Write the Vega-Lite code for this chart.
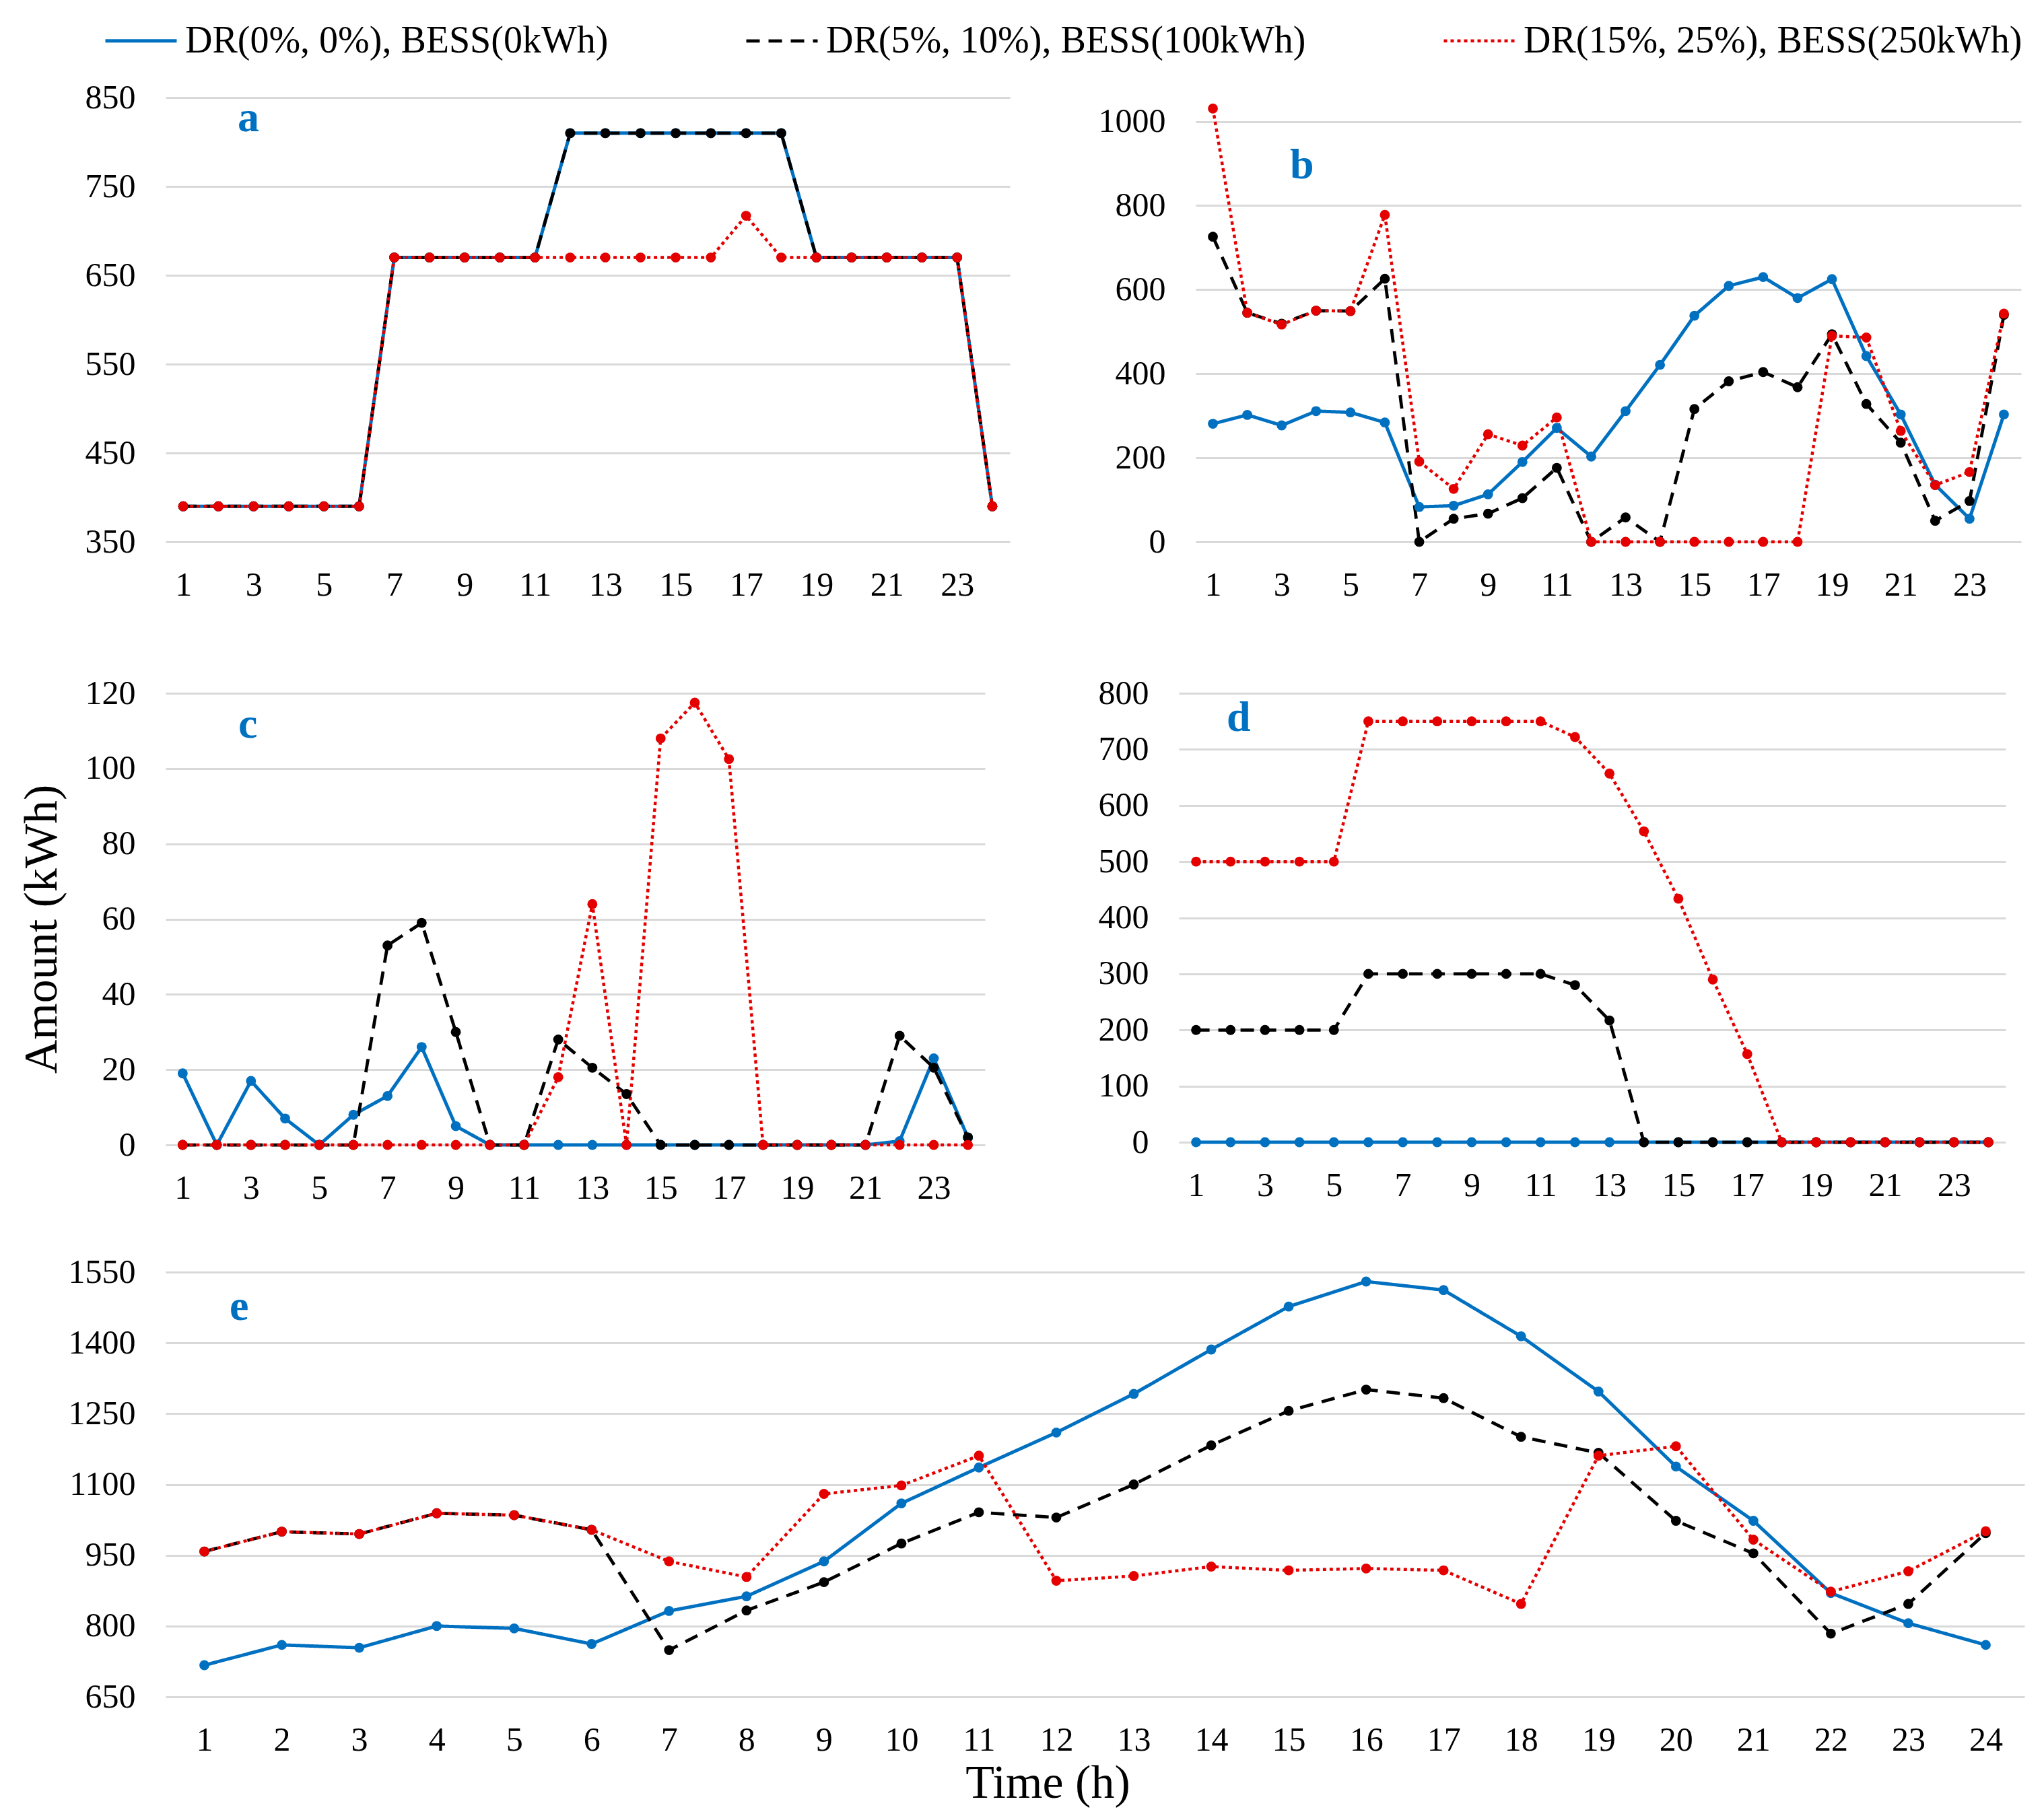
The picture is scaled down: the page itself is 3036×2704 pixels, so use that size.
{
  "$schema": "https://vega.github.io/schema/vega-lite/v6.json",
  "padding": {"left": 27, "top": 5, "right": 5, "bottom": 5},
  "background": "#ffffff",
  "title": {"text": "Amount (kWh)", "orient": "left", "anchor": "middle", "frame": "bounds", "offset": -53, "fontSize": 70, "fontWeight": "normal", "color": "#000000", "baseline": "alphabetic", "dx": -36, "dy": 0},
  "data": {"values": [
{"panel":"a","series":"DR(0%, 0%), BESS(0kWh)","hour":1,"kwh":390},{"panel":"a","series":"DR(0%, 0%), BESS(0kWh)","hour":2,"kwh":390},{"panel":"a","series":"DR(0%, 0%), BESS(0kWh)","hour":3,"kwh":390},{"panel":"a","series":"DR(0%, 0%), BESS(0kWh)","hour":4,"kwh":390},{"panel":"a","series":"DR(0%, 0%), BESS(0kWh)","hour":5,"kwh":390},{"panel":"a","series":"DR(0%, 0%), BESS(0kWh)","hour":6,"kwh":390},{"panel":"a","series":"DR(0%, 0%), BESS(0kWh)","hour":7,"kwh":670},{"panel":"a","series":"DR(0%, 0%), BESS(0kWh)","hour":8,"kwh":670},{"panel":"a","series":"DR(0%, 0%), BESS(0kWh)","hour":9,"kwh":670},{"panel":"a","series":"DR(0%, 0%), BESS(0kWh)","hour":10,"kwh":670},{"panel":"a","series":"DR(0%, 0%), BESS(0kWh)","hour":11,"kwh":670},{"panel":"a","series":"DR(0%, 0%), BESS(0kWh)","hour":12,"kwh":810},{"panel":"a","series":"DR(0%, 0%), BESS(0kWh)","hour":13,"kwh":810},{"panel":"a","series":"DR(0%, 0%), BESS(0kWh)","hour":14,"kwh":810},{"panel":"a","series":"DR(0%, 0%), BESS(0kWh)","hour":15,"kwh":810},{"panel":"a","series":"DR(0%, 0%), BESS(0kWh)","hour":16,"kwh":810},{"panel":"a","series":"DR(0%, 0%), BESS(0kWh)","hour":17,"kwh":810},{"panel":"a","series":"DR(0%, 0%), BESS(0kWh)","hour":18,"kwh":810},{"panel":"a","series":"DR(0%, 0%), BESS(0kWh)","hour":19,"kwh":670},{"panel":"a","series":"DR(0%, 0%), BESS(0kWh)","hour":20,"kwh":670},{"panel":"a","series":"DR(0%, 0%), BESS(0kWh)","hour":21,"kwh":670},{"panel":"a","series":"DR(0%, 0%), BESS(0kWh)","hour":22,"kwh":670},{"panel":"a","series":"DR(0%, 0%), BESS(0kWh)","hour":23,"kwh":670},{"panel":"a","series":"DR(0%, 0%), BESS(0kWh)","hour":24,"kwh":390},
{"panel":"a","series":"DR(5%, 10%), BESS(100kWh)","hour":1,"kwh":390},{"panel":"a","series":"DR(5%, 10%), BESS(100kWh)","hour":2,"kwh":390},{"panel":"a","series":"DR(5%, 10%), BESS(100kWh)","hour":3,"kwh":390},{"panel":"a","series":"DR(5%, 10%), BESS(100kWh)","hour":4,"kwh":390},{"panel":"a","series":"DR(5%, 10%), BESS(100kWh)","hour":5,"kwh":390},{"panel":"a","series":"DR(5%, 10%), BESS(100kWh)","hour":6,"kwh":390},{"panel":"a","series":"DR(5%, 10%), BESS(100kWh)","hour":7,"kwh":670},{"panel":"a","series":"DR(5%, 10%), BESS(100kWh)","hour":8,"kwh":670},{"panel":"a","series":"DR(5%, 10%), BESS(100kWh)","hour":9,"kwh":670},{"panel":"a","series":"DR(5%, 10%), BESS(100kWh)","hour":10,"kwh":670},{"panel":"a","series":"DR(5%, 10%), BESS(100kWh)","hour":11,"kwh":670},{"panel":"a","series":"DR(5%, 10%), BESS(100kWh)","hour":12,"kwh":810},{"panel":"a","series":"DR(5%, 10%), BESS(100kWh)","hour":13,"kwh":810},{"panel":"a","series":"DR(5%, 10%), BESS(100kWh)","hour":14,"kwh":810},{"panel":"a","series":"DR(5%, 10%), BESS(100kWh)","hour":15,"kwh":810},{"panel":"a","series":"DR(5%, 10%), BESS(100kWh)","hour":16,"kwh":810},{"panel":"a","series":"DR(5%, 10%), BESS(100kWh)","hour":17,"kwh":810},{"panel":"a","series":"DR(5%, 10%), BESS(100kWh)","hour":18,"kwh":810},{"panel":"a","series":"DR(5%, 10%), BESS(100kWh)","hour":19,"kwh":670},{"panel":"a","series":"DR(5%, 10%), BESS(100kWh)","hour":20,"kwh":670},{"panel":"a","series":"DR(5%, 10%), BESS(100kWh)","hour":21,"kwh":670},{"panel":"a","series":"DR(5%, 10%), BESS(100kWh)","hour":22,"kwh":670},{"panel":"a","series":"DR(5%, 10%), BESS(100kWh)","hour":23,"kwh":670},{"panel":"a","series":"DR(5%, 10%), BESS(100kWh)","hour":24,"kwh":390},
{"panel":"a","series":"DR(15%, 25%), BESS(250kWh)","hour":1,"kwh":390},{"panel":"a","series":"DR(15%, 25%), BESS(250kWh)","hour":2,"kwh":390},{"panel":"a","series":"DR(15%, 25%), BESS(250kWh)","hour":3,"kwh":390},{"panel":"a","series":"DR(15%, 25%), BESS(250kWh)","hour":4,"kwh":390},{"panel":"a","series":"DR(15%, 25%), BESS(250kWh)","hour":5,"kwh":390},{"panel":"a","series":"DR(15%, 25%), BESS(250kWh)","hour":6,"kwh":390},{"panel":"a","series":"DR(15%, 25%), BESS(250kWh)","hour":7,"kwh":670},{"panel":"a","series":"DR(15%, 25%), BESS(250kWh)","hour":8,"kwh":670},{"panel":"a","series":"DR(15%, 25%), BESS(250kWh)","hour":9,"kwh":670},{"panel":"a","series":"DR(15%, 25%), BESS(250kWh)","hour":10,"kwh":670},{"panel":"a","series":"DR(15%, 25%), BESS(250kWh)","hour":11,"kwh":670},{"panel":"a","series":"DR(15%, 25%), BESS(250kWh)","hour":12,"kwh":670},{"panel":"a","series":"DR(15%, 25%), BESS(250kWh)","hour":13,"kwh":670},{"panel":"a","series":"DR(15%, 25%), BESS(250kWh)","hour":14,"kwh":670},{"panel":"a","series":"DR(15%, 25%), BESS(250kWh)","hour":15,"kwh":670},{"panel":"a","series":"DR(15%, 25%), BESS(250kWh)","hour":16,"kwh":670},{"panel":"a","series":"DR(15%, 25%), BESS(250kWh)","hour":17,"kwh":717},{"panel":"a","series":"DR(15%, 25%), BESS(250kWh)","hour":18,"kwh":670},{"panel":"a","series":"DR(15%, 25%), BESS(250kWh)","hour":19,"kwh":670},{"panel":"a","series":"DR(15%, 25%), BESS(250kWh)","hour":20,"kwh":670},{"panel":"a","series":"DR(15%, 25%), BESS(250kWh)","hour":21,"kwh":670},{"panel":"a","series":"DR(15%, 25%), BESS(250kWh)","hour":22,"kwh":670},{"panel":"a","series":"DR(15%, 25%), BESS(250kWh)","hour":23,"kwh":670},{"panel":"a","series":"DR(15%, 25%), BESS(250kWh)","hour":24,"kwh":390},
{"panel":"b","series":"DR(0%, 0%), BESS(0kWh)","hour":1,"kwh":281},{"panel":"b","series":"DR(0%, 0%), BESS(0kWh)","hour":2,"kwh":302},{"panel":"b","series":"DR(0%, 0%), BESS(0kWh)","hour":3,"kwh":277},{"panel":"b","series":"DR(0%, 0%), BESS(0kWh)","hour":4,"kwh":311},{"panel":"b","series":"DR(0%, 0%), BESS(0kWh)","hour":5,"kwh":308},{"panel":"b","series":"DR(0%, 0%), BESS(0kWh)","hour":6,"kwh":284},{"panel":"b","series":"DR(0%, 0%), BESS(0kWh)","hour":7,"kwh":83},{"panel":"b","series":"DR(0%, 0%), BESS(0kWh)","hour":8,"kwh":86},{"panel":"b","series":"DR(0%, 0%), BESS(0kWh)","hour":9,"kwh":113},{"panel":"b","series":"DR(0%, 0%), BESS(0kWh)","hour":10,"kwh":190},{"panel":"b","series":"DR(0%, 0%), BESS(0kWh)","hour":11,"kwh":271},{"panel":"b","series":"DR(0%, 0%), BESS(0kWh)","hour":12,"kwh":203},{"panel":"b","series":"DR(0%, 0%), BESS(0kWh)","hour":13,"kwh":311},{"panel":"b","series":"DR(0%, 0%), BESS(0kWh)","hour":14,"kwh":421},{"panel":"b","series":"DR(0%, 0%), BESS(0kWh)","hour":15,"kwh":538},{"panel":"b","series":"DR(0%, 0%), BESS(0kWh)","hour":16,"kwh":609},{"panel":"b","series":"DR(0%, 0%), BESS(0kWh)","hour":17,"kwh":630},{"panel":"b","series":"DR(0%, 0%), BESS(0kWh)","hour":18,"kwh":580},{"panel":"b","series":"DR(0%, 0%), BESS(0kWh)","hour":19,"kwh":625},{"panel":"b","series":"DR(0%, 0%), BESS(0kWh)","hour":20,"kwh":442},{"panel":"b","series":"DR(0%, 0%), BESS(0kWh)","hour":21,"kwh":303},{"panel":"b","series":"DR(0%, 0%), BESS(0kWh)","hour":22,"kwh":136},{"panel":"b","series":"DR(0%, 0%), BESS(0kWh)","hour":23,"kwh":55},{"panel":"b","series":"DR(0%, 0%), BESS(0kWh)","hour":24,"kwh":303},
{"panel":"b","series":"DR(5%, 10%), BESS(100kWh)","hour":1,"kwh":726},{"panel":"b","series":"DR(5%, 10%), BESS(100kWh)","hour":2,"kwh":545},{"panel":"b","series":"DR(5%, 10%), BESS(100kWh)","hour":3,"kwh":519},{"panel":"b","series":"DR(5%, 10%), BESS(100kWh)","hour":4,"kwh":550},{"panel":"b","series":"DR(5%, 10%), BESS(100kWh)","hour":5,"kwh":549},{"panel":"b","series":"DR(5%, 10%), BESS(100kWh)","hour":6,"kwh":626},{"panel":"b","series":"DR(5%, 10%), BESS(100kWh)","hour":7,"kwh":0},{"panel":"b","series":"DR(5%, 10%), BESS(100kWh)","hour":8,"kwh":55},{"panel":"b","series":"DR(5%, 10%), BESS(100kWh)","hour":9,"kwh":67},{"panel":"b","series":"DR(5%, 10%), BESS(100kWh)","hour":10,"kwh":104},{"panel":"b","series":"DR(5%, 10%), BESS(100kWh)","hour":11,"kwh":176},{"panel":"b","series":"DR(5%, 10%), BESS(100kWh)","hour":12,"kwh":0},{"panel":"b","series":"DR(5%, 10%), BESS(100kWh)","hour":13,"kwh":58},{"panel":"b","series":"DR(5%, 10%), BESS(100kWh)","hour":14,"kwh":0},{"panel":"b","series":"DR(5%, 10%), BESS(100kWh)","hour":15,"kwh":316},{"panel":"b","series":"DR(5%, 10%), BESS(100kWh)","hour":16,"kwh":382},{"panel":"b","series":"DR(5%, 10%), BESS(100kWh)","hour":17,"kwh":404},{"panel":"b","series":"DR(5%, 10%), BESS(100kWh)","hour":18,"kwh":368},{"panel":"b","series":"DR(5%, 10%), BESS(100kWh)","hour":19,"kwh":494},{"panel":"b","series":"DR(5%, 10%), BESS(100kWh)","hour":20,"kwh":328},{"panel":"b","series":"DR(5%, 10%), BESS(100kWh)","hour":21,"kwh":236},{"panel":"b","series":"DR(5%, 10%), BESS(100kWh)","hour":22,"kwh":50},{"panel":"b","series":"DR(5%, 10%), BESS(100kWh)","hour":23,"kwh":97},{"panel":"b","series":"DR(5%, 10%), BESS(100kWh)","hour":24,"kwh":540},
{"panel":"b","series":"DR(15%, 25%), BESS(250kWh)","hour":1,"kwh":1031},{"panel":"b","series":"DR(15%, 25%), BESS(250kWh)","hour":2,"kwh":545},{"panel":"b","series":"DR(15%, 25%), BESS(250kWh)","hour":3,"kwh":517},{"panel":"b","series":"DR(15%, 25%), BESS(250kWh)","hour":4,"kwh":550},{"panel":"b","series":"DR(15%, 25%), BESS(250kWh)","hour":5,"kwh":549},{"panel":"b","series":"DR(15%, 25%), BESS(250kWh)","hour":6,"kwh":778},{"panel":"b","series":"DR(15%, 25%), BESS(250kWh)","hour":7,"kwh":191},{"panel":"b","series":"DR(15%, 25%), BESS(250kWh)","hour":8,"kwh":126},{"panel":"b","series":"DR(15%, 25%), BESS(250kWh)","hour":9,"kwh":256},{"panel":"b","series":"DR(15%, 25%), BESS(250kWh)","hour":10,"kwh":229},{"panel":"b","series":"DR(15%, 25%), BESS(250kWh)","hour":11,"kwh":296},{"panel":"b","series":"DR(15%, 25%), BESS(250kWh)","hour":12,"kwh":0},{"panel":"b","series":"DR(15%, 25%), BESS(250kWh)","hour":13,"kwh":0},{"panel":"b","series":"DR(15%, 25%), BESS(250kWh)","hour":14,"kwh":0},{"panel":"b","series":"DR(15%, 25%), BESS(250kWh)","hour":15,"kwh":0},{"panel":"b","series":"DR(15%, 25%), BESS(250kWh)","hour":16,"kwh":0},{"panel":"b","series":"DR(15%, 25%), BESS(250kWh)","hour":17,"kwh":0},{"panel":"b","series":"DR(15%, 25%), BESS(250kWh)","hour":18,"kwh":0},{"panel":"b","series":"DR(15%, 25%), BESS(250kWh)","hour":19,"kwh":490},{"panel":"b","series":"DR(15%, 25%), BESS(250kWh)","hour":20,"kwh":486},{"panel":"b","series":"DR(15%, 25%), BESS(250kWh)","hour":21,"kwh":264},{"panel":"b","series":"DR(15%, 25%), BESS(250kWh)","hour":22,"kwh":135},{"panel":"b","series":"DR(15%, 25%), BESS(250kWh)","hour":23,"kwh":166},{"panel":"b","series":"DR(15%, 25%), BESS(250kWh)","hour":24,"kwh":543},
{"panel":"c","series":"DR(0%, 0%), BESS(0kWh)","hour":1,"kwh":19},{"panel":"c","series":"DR(0%, 0%), BESS(0kWh)","hour":2,"kwh":0},{"panel":"c","series":"DR(0%, 0%), BESS(0kWh)","hour":3,"kwh":17},{"panel":"c","series":"DR(0%, 0%), BESS(0kWh)","hour":4,"kwh":7},{"panel":"c","series":"DR(0%, 0%), BESS(0kWh)","hour":5,"kwh":0},{"panel":"c","series":"DR(0%, 0%), BESS(0kWh)","hour":6,"kwh":8},{"panel":"c","series":"DR(0%, 0%), BESS(0kWh)","hour":7,"kwh":13},{"panel":"c","series":"DR(0%, 0%), BESS(0kWh)","hour":8,"kwh":26},{"panel":"c","series":"DR(0%, 0%), BESS(0kWh)","hour":9,"kwh":5},{"panel":"c","series":"DR(0%, 0%), BESS(0kWh)","hour":10,"kwh":0},{"panel":"c","series":"DR(0%, 0%), BESS(0kWh)","hour":11,"kwh":0},{"panel":"c","series":"DR(0%, 0%), BESS(0kWh)","hour":12,"kwh":0},{"panel":"c","series":"DR(0%, 0%), BESS(0kWh)","hour":13,"kwh":0},{"panel":"c","series":"DR(0%, 0%), BESS(0kWh)","hour":14,"kwh":0},{"panel":"c","series":"DR(0%, 0%), BESS(0kWh)","hour":15,"kwh":0},{"panel":"c","series":"DR(0%, 0%), BESS(0kWh)","hour":16,"kwh":0},{"panel":"c","series":"DR(0%, 0%), BESS(0kWh)","hour":17,"kwh":0},{"panel":"c","series":"DR(0%, 0%), BESS(0kWh)","hour":18,"kwh":0},{"panel":"c","series":"DR(0%, 0%), BESS(0kWh)","hour":19,"kwh":0},{"panel":"c","series":"DR(0%, 0%), BESS(0kWh)","hour":20,"kwh":0},{"panel":"c","series":"DR(0%, 0%), BESS(0kWh)","hour":21,"kwh":0},{"panel":"c","series":"DR(0%, 0%), BESS(0kWh)","hour":22,"kwh":1},{"panel":"c","series":"DR(0%, 0%), BESS(0kWh)","hour":23,"kwh":23},{"panel":"c","series":"DR(0%, 0%), BESS(0kWh)","hour":24,"kwh":2},
{"panel":"c","series":"DR(5%, 10%), BESS(100kWh)","hour":1,"kwh":0},{"panel":"c","series":"DR(5%, 10%), BESS(100kWh)","hour":2,"kwh":0},{"panel":"c","series":"DR(5%, 10%), BESS(100kWh)","hour":3,"kwh":0},{"panel":"c","series":"DR(5%, 10%), BESS(100kWh)","hour":4,"kwh":0},{"panel":"c","series":"DR(5%, 10%), BESS(100kWh)","hour":5,"kwh":0},{"panel":"c","series":"DR(5%, 10%), BESS(100kWh)","hour":6,"kwh":0},{"panel":"c","series":"DR(5%, 10%), BESS(100kWh)","hour":7,"kwh":53},{"panel":"c","series":"DR(5%, 10%), BESS(100kWh)","hour":8,"kwh":59},{"panel":"c","series":"DR(5%, 10%), BESS(100kWh)","hour":9,"kwh":30},{"panel":"c","series":"DR(5%, 10%), BESS(100kWh)","hour":10,"kwh":0},{"panel":"c","series":"DR(5%, 10%), BESS(100kWh)","hour":11,"kwh":0},{"panel":"c","series":"DR(5%, 10%), BESS(100kWh)","hour":12,"kwh":28},{"panel":"c","series":"DR(5%, 10%), BESS(100kWh)","hour":13,"kwh":20.5},{"panel":"c","series":"DR(5%, 10%), BESS(100kWh)","hour":14,"kwh":13.5},{"panel":"c","series":"DR(5%, 10%), BESS(100kWh)","hour":15,"kwh":0},{"panel":"c","series":"DR(5%, 10%), BESS(100kWh)","hour":16,"kwh":0},{"panel":"c","series":"DR(5%, 10%), BESS(100kWh)","hour":17,"kwh":0},{"panel":"c","series":"DR(5%, 10%), BESS(100kWh)","hour":18,"kwh":0},{"panel":"c","series":"DR(5%, 10%), BESS(100kWh)","hour":19,"kwh":0},{"panel":"c","series":"DR(5%, 10%), BESS(100kWh)","hour":20,"kwh":0},{"panel":"c","series":"DR(5%, 10%), BESS(100kWh)","hour":21,"kwh":0},{"panel":"c","series":"DR(5%, 10%), BESS(100kWh)","hour":22,"kwh":29},{"panel":"c","series":"DR(5%, 10%), BESS(100kWh)","hour":23,"kwh":20.5},{"panel":"c","series":"DR(5%, 10%), BESS(100kWh)","hour":24,"kwh":2},
{"panel":"c","series":"DR(15%, 25%), BESS(250kWh)","hour":1,"kwh":0},{"panel":"c","series":"DR(15%, 25%), BESS(250kWh)","hour":2,"kwh":0},{"panel":"c","series":"DR(15%, 25%), BESS(250kWh)","hour":3,"kwh":0},{"panel":"c","series":"DR(15%, 25%), BESS(250kWh)","hour":4,"kwh":0},{"panel":"c","series":"DR(15%, 25%), BESS(250kWh)","hour":5,"kwh":0},{"panel":"c","series":"DR(15%, 25%), BESS(250kWh)","hour":6,"kwh":0},{"panel":"c","series":"DR(15%, 25%), BESS(250kWh)","hour":7,"kwh":0},{"panel":"c","series":"DR(15%, 25%), BESS(250kWh)","hour":8,"kwh":0},{"panel":"c","series":"DR(15%, 25%), BESS(250kWh)","hour":9,"kwh":0},{"panel":"c","series":"DR(15%, 25%), BESS(250kWh)","hour":10,"kwh":0},{"panel":"c","series":"DR(15%, 25%), BESS(250kWh)","hour":11,"kwh":0},{"panel":"c","series":"DR(15%, 25%), BESS(250kWh)","hour":12,"kwh":18},{"panel":"c","series":"DR(15%, 25%), BESS(250kWh)","hour":13,"kwh":64},{"panel":"c","series":"DR(15%, 25%), BESS(250kWh)","hour":14,"kwh":0},{"panel":"c","series":"DR(15%, 25%), BESS(250kWh)","hour":15,"kwh":108},{"panel":"c","series":"DR(15%, 25%), BESS(250kWh)","hour":16,"kwh":117.5},{"panel":"c","series":"DR(15%, 25%), BESS(250kWh)","hour":17,"kwh":102.5},{"panel":"c","series":"DR(15%, 25%), BESS(250kWh)","hour":18,"kwh":0},{"panel":"c","series":"DR(15%, 25%), BESS(250kWh)","hour":19,"kwh":0},{"panel":"c","series":"DR(15%, 25%), BESS(250kWh)","hour":20,"kwh":0},{"panel":"c","series":"DR(15%, 25%), BESS(250kWh)","hour":21,"kwh":0},{"panel":"c","series":"DR(15%, 25%), BESS(250kWh)","hour":22,"kwh":0},{"panel":"c","series":"DR(15%, 25%), BESS(250kWh)","hour":23,"kwh":0},{"panel":"c","series":"DR(15%, 25%), BESS(250kWh)","hour":24,"kwh":0},
{"panel":"d","series":"DR(0%, 0%), BESS(0kWh)","hour":1,"kwh":0},{"panel":"d","series":"DR(0%, 0%), BESS(0kWh)","hour":2,"kwh":0},{"panel":"d","series":"DR(0%, 0%), BESS(0kWh)","hour":3,"kwh":0},{"panel":"d","series":"DR(0%, 0%), BESS(0kWh)","hour":4,"kwh":0},{"panel":"d","series":"DR(0%, 0%), BESS(0kWh)","hour":5,"kwh":0},{"panel":"d","series":"DR(0%, 0%), BESS(0kWh)","hour":6,"kwh":0},{"panel":"d","series":"DR(0%, 0%), BESS(0kWh)","hour":7,"kwh":0},{"panel":"d","series":"DR(0%, 0%), BESS(0kWh)","hour":8,"kwh":0},{"panel":"d","series":"DR(0%, 0%), BESS(0kWh)","hour":9,"kwh":0},{"panel":"d","series":"DR(0%, 0%), BESS(0kWh)","hour":10,"kwh":0},{"panel":"d","series":"DR(0%, 0%), BESS(0kWh)","hour":11,"kwh":0},{"panel":"d","series":"DR(0%, 0%), BESS(0kWh)","hour":12,"kwh":0},{"panel":"d","series":"DR(0%, 0%), BESS(0kWh)","hour":13,"kwh":0},{"panel":"d","series":"DR(0%, 0%), BESS(0kWh)","hour":14,"kwh":0},{"panel":"d","series":"DR(0%, 0%), BESS(0kWh)","hour":15,"kwh":0},{"panel":"d","series":"DR(0%, 0%), BESS(0kWh)","hour":16,"kwh":0},{"panel":"d","series":"DR(0%, 0%), BESS(0kWh)","hour":17,"kwh":0},{"panel":"d","series":"DR(0%, 0%), BESS(0kWh)","hour":18,"kwh":0},{"panel":"d","series":"DR(0%, 0%), BESS(0kWh)","hour":19,"kwh":0},{"panel":"d","series":"DR(0%, 0%), BESS(0kWh)","hour":20,"kwh":0},{"panel":"d","series":"DR(0%, 0%), BESS(0kWh)","hour":21,"kwh":0},{"panel":"d","series":"DR(0%, 0%), BESS(0kWh)","hour":22,"kwh":0},{"panel":"d","series":"DR(0%, 0%), BESS(0kWh)","hour":23,"kwh":0},{"panel":"d","series":"DR(0%, 0%), BESS(0kWh)","hour":24,"kwh":0},
{"panel":"d","series":"DR(5%, 10%), BESS(100kWh)","hour":1,"kwh":200},{"panel":"d","series":"DR(5%, 10%), BESS(100kWh)","hour":2,"kwh":200},{"panel":"d","series":"DR(5%, 10%), BESS(100kWh)","hour":3,"kwh":200},{"panel":"d","series":"DR(5%, 10%), BESS(100kWh)","hour":4,"kwh":200},{"panel":"d","series":"DR(5%, 10%), BESS(100kWh)","hour":5,"kwh":200},{"panel":"d","series":"DR(5%, 10%), BESS(100kWh)","hour":6,"kwh":300},{"panel":"d","series":"DR(5%, 10%), BESS(100kWh)","hour":7,"kwh":300},{"panel":"d","series":"DR(5%, 10%), BESS(100kWh)","hour":8,"kwh":300},{"panel":"d","series":"DR(5%, 10%), BESS(100kWh)","hour":9,"kwh":300},{"panel":"d","series":"DR(5%, 10%), BESS(100kWh)","hour":10,"kwh":300},{"panel":"d","series":"DR(5%, 10%), BESS(100kWh)","hour":11,"kwh":300},{"panel":"d","series":"DR(5%, 10%), BESS(100kWh)","hour":12,"kwh":280},{"panel":"d","series":"DR(5%, 10%), BESS(100kWh)","hour":13,"kwh":217},{"panel":"d","series":"DR(5%, 10%), BESS(100kWh)","hour":14,"kwh":0},{"panel":"d","series":"DR(5%, 10%), BESS(100kWh)","hour":15,"kwh":0},{"panel":"d","series":"DR(5%, 10%), BESS(100kWh)","hour":16,"kwh":0},{"panel":"d","series":"DR(5%, 10%), BESS(100kWh)","hour":17,"kwh":0},{"panel":"d","series":"DR(5%, 10%), BESS(100kWh)","hour":18,"kwh":0},{"panel":"d","series":"DR(5%, 10%), BESS(100kWh)","hour":19,"kwh":0},{"panel":"d","series":"DR(5%, 10%), BESS(100kWh)","hour":20,"kwh":0},{"panel":"d","series":"DR(5%, 10%), BESS(100kWh)","hour":21,"kwh":0},{"panel":"d","series":"DR(5%, 10%), BESS(100kWh)","hour":22,"kwh":0},{"panel":"d","series":"DR(5%, 10%), BESS(100kWh)","hour":23,"kwh":0},{"panel":"d","series":"DR(5%, 10%), BESS(100kWh)","hour":24,"kwh":0},
{"panel":"d","series":"DR(15%, 25%), BESS(250kWh)","hour":1,"kwh":500},{"panel":"d","series":"DR(15%, 25%), BESS(250kWh)","hour":2,"kwh":500},{"panel":"d","series":"DR(15%, 25%), BESS(250kWh)","hour":3,"kwh":500},{"panel":"d","series":"DR(15%, 25%), BESS(250kWh)","hour":4,"kwh":500},{"panel":"d","series":"DR(15%, 25%), BESS(250kWh)","hour":5,"kwh":500},{"panel":"d","series":"DR(15%, 25%), BESS(250kWh)","hour":6,"kwh":750},{"panel":"d","series":"DR(15%, 25%), BESS(250kWh)","hour":7,"kwh":750},{"panel":"d","series":"DR(15%, 25%), BESS(250kWh)","hour":8,"kwh":750},{"panel":"d","series":"DR(15%, 25%), BESS(250kWh)","hour":9,"kwh":750},{"panel":"d","series":"DR(15%, 25%), BESS(250kWh)","hour":10,"kwh":750},{"panel":"d","series":"DR(15%, 25%), BESS(250kWh)","hour":11,"kwh":750},{"panel":"d","series":"DR(15%, 25%), BESS(250kWh)","hour":12,"kwh":722},{"panel":"d","series":"DR(15%, 25%), BESS(250kWh)","hour":13,"kwh":657},{"panel":"d","series":"DR(15%, 25%), BESS(250kWh)","hour":14,"kwh":554},{"panel":"d","series":"DR(15%, 25%), BESS(250kWh)","hour":15,"kwh":434},{"panel":"d","series":"DR(15%, 25%), BESS(250kWh)","hour":16,"kwh":290},{"panel":"d","series":"DR(15%, 25%), BESS(250kWh)","hour":17,"kwh":157},{"panel":"d","series":"DR(15%, 25%), BESS(250kWh)","hour":18,"kwh":0},{"panel":"d","series":"DR(15%, 25%), BESS(250kWh)","hour":19,"kwh":0},{"panel":"d","series":"DR(15%, 25%), BESS(250kWh)","hour":20,"kwh":0},{"panel":"d","series":"DR(15%, 25%), BESS(250kWh)","hour":21,"kwh":0},{"panel":"d","series":"DR(15%, 25%), BESS(250kWh)","hour":22,"kwh":0},{"panel":"d","series":"DR(15%, 25%), BESS(250kWh)","hour":23,"kwh":0},{"panel":"d","series":"DR(15%, 25%), BESS(250kWh)","hour":24,"kwh":0},
{"panel":"e","series":"DR(0%, 0%), BESS(0kWh)","hour":1,"kwh":717},{"panel":"e","series":"DR(0%, 0%), BESS(0kWh)","hour":2,"kwh":760},{"panel":"e","series":"DR(0%, 0%), BESS(0kWh)","hour":3,"kwh":754},{"panel":"e","series":"DR(0%, 0%), BESS(0kWh)","hour":4,"kwh":800},{"panel":"e","series":"DR(0%, 0%), BESS(0kWh)","hour":5,"kwh":795},{"panel":"e","series":"DR(0%, 0%), BESS(0kWh)","hour":6,"kwh":762},{"panel":"e","series":"DR(0%, 0%), BESS(0kWh)","hour":7,"kwh":832},{"panel":"e","series":"DR(0%, 0%), BESS(0kWh)","hour":8,"kwh":863},{"panel":"e","series":"DR(0%, 0%), BESS(0kWh)","hour":9,"kwh":937},{"panel":"e","series":"DR(0%, 0%), BESS(0kWh)","hour":10,"kwh":1060},{"panel":"e","series":"DR(0%, 0%), BESS(0kWh)","hour":11,"kwh":1136},{"panel":"e","series":"DR(0%, 0%), BESS(0kWh)","hour":12,"kwh":1210},{"panel":"e","series":"DR(0%, 0%), BESS(0kWh)","hour":13,"kwh":1292},{"panel":"e","series":"DR(0%, 0%), BESS(0kWh)","hour":14,"kwh":1386},{"panel":"e","series":"DR(0%, 0%), BESS(0kWh)","hour":15,"kwh":1477},{"panel":"e","series":"DR(0%, 0%), BESS(0kWh)","hour":16,"kwh":1530},{"panel":"e","series":"DR(0%, 0%), BESS(0kWh)","hour":17,"kwh":1512},{"panel":"e","series":"DR(0%, 0%), BESS(0kWh)","hour":18,"kwh":1414},{"panel":"e","series":"DR(0%, 0%), BESS(0kWh)","hour":19,"kwh":1297},{"panel":"e","series":"DR(0%, 0%), BESS(0kWh)","hour":20,"kwh":1138},{"panel":"e","series":"DR(0%, 0%), BESS(0kWh)","hour":21,"kwh":1023},{"panel":"e","series":"DR(0%, 0%), BESS(0kWh)","hour":22,"kwh":870},{"panel":"e","series":"DR(0%, 0%), BESS(0kWh)","hour":23,"kwh":806},{"panel":"e","series":"DR(0%, 0%), BESS(0kWh)","hour":24,"kwh":760},
{"panel":"e","series":"DR(5%, 10%), BESS(100kWh)","hour":1,"kwh":958},{"panel":"e","series":"DR(5%, 10%), BESS(100kWh)","hour":2,"kwh":1000},{"panel":"e","series":"DR(5%, 10%), BESS(100kWh)","hour":3,"kwh":995},{"panel":"e","series":"DR(5%, 10%), BESS(100kWh)","hour":4,"kwh":1039},{"panel":"e","series":"DR(5%, 10%), BESS(100kWh)","hour":5,"kwh":1035},{"panel":"e","series":"DR(5%, 10%), BESS(100kWh)","hour":6,"kwh":1004},{"panel":"e","series":"DR(5%, 10%), BESS(100kWh)","hour":7,"kwh":749},{"panel":"e","series":"DR(5%, 10%), BESS(100kWh)","hour":8,"kwh":833},{"panel":"e","series":"DR(5%, 10%), BESS(100kWh)","hour":9,"kwh":893},{"panel":"e","series":"DR(5%, 10%), BESS(100kWh)","hour":10,"kwh":975},{"panel":"e","series":"DR(5%, 10%), BESS(100kWh)","hour":11,"kwh":1041},{"panel":"e","series":"DR(5%, 10%), BESS(100kWh)","hour":12,"kwh":1030},{"panel":"e","series":"DR(5%, 10%), BESS(100kWh)","hour":13,"kwh":1100},{"panel":"e","series":"DR(5%, 10%), BESS(100kWh)","hour":14,"kwh":1183},{"panel":"e","series":"DR(5%, 10%), BESS(100kWh)","hour":15,"kwh":1256},{"panel":"e","series":"DR(5%, 10%), BESS(100kWh)","hour":16,"kwh":1301},{"panel":"e","series":"DR(5%, 10%), BESS(100kWh)","hour":17,"kwh":1283},{"panel":"e","series":"DR(5%, 10%), BESS(100kWh)","hour":18,"kwh":1201},{"panel":"e","series":"DR(5%, 10%), BESS(100kWh)","hour":19,"kwh":1167},{"panel":"e","series":"DR(5%, 10%), BESS(100kWh)","hour":20,"kwh":1023},{"panel":"e","series":"DR(5%, 10%), BESS(100kWh)","hour":21,"kwh":954},{"panel":"e","series":"DR(5%, 10%), BESS(100kWh)","hour":22,"kwh":784},{"panel":"e","series":"DR(5%, 10%), BESS(100kWh)","hour":23,"kwh":847},{"panel":"e","series":"DR(5%, 10%), BESS(100kWh)","hour":24,"kwh":997},
{"panel":"e","series":"DR(15%, 25%), BESS(250kWh)","hour":1,"kwh":958},{"panel":"e","series":"DR(15%, 25%), BESS(250kWh)","hour":2,"kwh":1000},{"panel":"e","series":"DR(15%, 25%), BESS(250kWh)","hour":3,"kwh":995},{"panel":"e","series":"DR(15%, 25%), BESS(250kWh)","hour":4,"kwh":1039},{"panel":"e","series":"DR(15%, 25%), BESS(250kWh)","hour":5,"kwh":1035},{"panel":"e","series":"DR(15%, 25%), BESS(250kWh)","hour":6,"kwh":1004},{"panel":"e","series":"DR(15%, 25%), BESS(250kWh)","hour":7,"kwh":937},{"panel":"e","series":"DR(15%, 25%), BESS(250kWh)","hour":8,"kwh":904},{"panel":"e","series":"DR(15%, 25%), BESS(250kWh)","hour":9,"kwh":1080},{"panel":"e","series":"DR(15%, 25%), BESS(250kWh)","hour":10,"kwh":1098},{"panel":"e","series":"DR(15%, 25%), BESS(250kWh)","hour":11,"kwh":1161},{"panel":"e","series":"DR(15%, 25%), BESS(250kWh)","hour":12,"kwh":896},{"panel":"e","series":"DR(15%, 25%), BESS(250kWh)","hour":13,"kwh":906},{"panel":"e","series":"DR(15%, 25%), BESS(250kWh)","hour":14,"kwh":926},{"panel":"e","series":"DR(15%, 25%), BESS(250kWh)","hour":15,"kwh":918},{"panel":"e","series":"DR(15%, 25%), BESS(250kWh)","hour":16,"kwh":922},{"panel":"e","series":"DR(15%, 25%), BESS(250kWh)","hour":17,"kwh":918},{"panel":"e","series":"DR(15%, 25%), BESS(250kWh)","hour":18,"kwh":847},{"panel":"e","series":"DR(15%, 25%), BESS(250kWh)","hour":19,"kwh":1161},{"panel":"e","series":"DR(15%, 25%), BESS(250kWh)","hour":20,"kwh":1181},{"panel":"e","series":"DR(15%, 25%), BESS(250kWh)","hour":21,"kwh":983},{"panel":"e","series":"DR(15%, 25%), BESS(250kWh)","hour":22,"kwh":873},{"panel":"e","series":"DR(15%, 25%), BESS(250kWh)","hour":23,"kwh":916},{"panel":"e","series":"DR(15%, 25%), BESS(250kWh)","hour":24,"kwh":1001}
  ]},
  "spacing": 75,
  "vconcat": [
    {
      "spacing": 111,
      "vconcat": [
        {
          "spacing": 276,
          "bounds": "flush",
          "hconcat": [
            {
              "width": 1254, "height": 660,
              "title": {"text": "a", "dx": 107, "dy": 92},
              "transform": [{"filter": "datum.panel === 'a'"}],
              "mark": {"type": "line", "point": {"filled": true, "size": 220}},
              "encoding": {
                "x": {"field": "hour", "type": "ordinal", "sort": "ascending", "scale": {"type": "point", "padding": 0.5}, "axis": {"values": [1,3,5,7,9,11,13,15,17,19,21,23], "title": null}},
                "y": {"field": "kwh", "type": "quantitative", "scale": {"domain": [350, 850], "nice": false, "zero": false}, "axis": {"values": [350,450,550,650,750,850], "format": "d", "title": null, "labelPadding": 45, "labelAlign": "right"}},
                "color": {"field": "series", "type": "nominal", "scale": {"domain": ["DR(0%, 0%), BESS(0kWh)", "DR(5%, 10%), BESS(100kWh)", "DR(15%, 25%), BESS(250kWh)"], "range": ["#0070C0", "#000000", "#E50000"]}, "legend": {"orient": "none", "legendX": -92, "legendY": -140, "direction": "horizontal", "title": null}},
                "strokeDash": {"field": "series", "type": "nominal", "scale": {"domain": ["DR(0%, 0%), BESS(0kWh)", "DR(5%, 10%), BESS(100kWh)", "DR(15%, 25%), BESS(250kWh)"], "range": [[1, 0], [20, 13], [5, 5]]}, "legend": {"orient": "none", "legendX": -92, "legendY": -140, "direction": "horizontal", "title": null}},
                "strokeWidth": {"field": "series", "type": "nominal", "scale": {"domain": ["DR(0%, 0%), BESS(0kWh)", "DR(5%, 10%), BESS(100kWh)", "DR(15%, 25%), BESS(250kWh)"], "range": [5, 4.5, 4]}, "legend": null}
              }
            },
            {
              "width": 1226, "height": 660,
              "title": {"text": "b", "dx": 140, "dy": 137},
              "transform": [{"filter": "datum.panel === 'b'"}],
              "mark": {"type": "line", "point": {"filled": true, "size": 220}},
              "encoding": {
                "x": {"field": "hour", "type": "ordinal", "sort": "ascending", "scale": {"type": "point", "padding": 0.5}, "axis": {"values": [1,3,5,7,9,11,13,15,17,19,21,23], "title": null}},
                "y": {"field": "kwh", "type": "quantitative", "scale": {"domain": [0, 1057], "nice": false, "zero": false}, "axis": {"values": [0,200,400,600,800,1000], "format": "d", "title": null, "labelPadding": 45, "labelAlign": "right"}},
                "color": {"field": "series", "type": "nominal", "scale": {"domain": ["DR(0%, 0%), BESS(0kWh)", "DR(5%, 10%), BESS(100kWh)", "DR(15%, 25%), BESS(250kWh)"], "range": ["#0070C0", "#000000", "#E50000"]}, "legend": {"orient": "none", "legendX": -92, "legendY": -140, "direction": "horizontal", "title": null}},
                "strokeDash": {"field": "series", "type": "nominal", "scale": {"domain": ["DR(0%, 0%), BESS(0kWh)", "DR(5%, 10%), BESS(100kWh)", "DR(15%, 25%), BESS(250kWh)"], "range": [[1, 0], [20, 13], [5, 5]]}, "legend": {"orient": "none", "legendX": -92, "legendY": -140, "direction": "horizontal", "title": null}},
                "strokeWidth": {"field": "series", "type": "nominal", "scale": {"domain": ["DR(0%, 0%), BESS(0kWh)", "DR(5%, 10%), BESS(100kWh)", "DR(15%, 25%), BESS(250kWh)"], "range": [5, 4.5, 4]}, "legend": null}
              }
            }
          ]
        },
        {
          "spacing": 288,
          "bounds": "flush",
          "hconcat": [
            {
              "width": 1217, "height": 671,
              "title": {"text": "c", "dx": 108, "dy": 108},
              "transform": [{"filter": "datum.panel === 'c'"}],
              "mark": {"type": "line", "point": {"filled": true, "size": 220}},
              "encoding": {
                "x": {"field": "hour", "type": "ordinal", "sort": "ascending", "scale": {"type": "point", "padding": 0.5}, "axis": {"values": [1,3,5,7,9,11,13,15,17,19,21,23], "title": null}},
                "y": {"field": "kwh", "type": "quantitative", "scale": {"domain": [0, 120], "nice": false, "zero": false}, "axis": {"values": [0,20,40,60,80,100,120], "format": "d", "title": null, "labelPadding": 45, "labelAlign": "right"}},
                "color": {"field": "series", "type": "nominal", "scale": {"domain": ["DR(0%, 0%), BESS(0kWh)", "DR(5%, 10%), BESS(100kWh)", "DR(15%, 25%), BESS(250kWh)"], "range": ["#0070C0", "#000000", "#E50000"]}, "legend": {"orient": "none", "legendX": -92, "legendY": -140, "direction": "horizontal", "title": null}},
                "strokeDash": {"field": "series", "type": "nominal", "scale": {"domain": ["DR(0%, 0%), BESS(0kWh)", "DR(5%, 10%), BESS(100kWh)", "DR(15%, 25%), BESS(250kWh)"], "range": [[1, 0], [20, 13], [5, 5]]}, "legend": {"orient": "none", "legendX": -92, "legendY": -140, "direction": "horizontal", "title": null}},
                "strokeWidth": {"field": "series", "type": "nominal", "scale": {"domain": ["DR(0%, 0%), BESS(0kWh)", "DR(5%, 10%), BESS(100kWh)", "DR(15%, 25%), BESS(250kWh)"], "range": [5, 4.5, 4]}, "legend": null}
              }
            },
            {
              "width": 1228, "height": 667,
              "title": {"text": "d", "dx": 71, "dy": 98},
              "transform": [{"filter": "datum.panel === 'd'"}],
              "mark": {"type": "line", "point": {"filled": true, "size": 220}},
              "encoding": {
                "x": {"field": "hour", "type": "ordinal", "sort": "ascending", "scale": {"type": "point", "padding": 0.5}, "axis": {"values": [1,3,5,7,9,11,13,15,17,19,21,23], "title": null}},
                "y": {"field": "kwh", "type": "quantitative", "scale": {"domain": [0, 800], "nice": false, "zero": false}, "axis": {"values": [0,100,200,300,400,500,600,700,800], "format": "d", "title": null, "labelPadding": 45, "labelAlign": "right"}},
                "color": {"field": "series", "type": "nominal", "scale": {"domain": ["DR(0%, 0%), BESS(0kWh)", "DR(5%, 10%), BESS(100kWh)", "DR(15%, 25%), BESS(250kWh)"], "range": ["#0070C0", "#000000", "#E50000"]}, "legend": {"orient": "none", "legendX": -92, "legendY": -140, "direction": "horizontal", "title": null}},
                "strokeDash": {"field": "series", "type": "nominal", "scale": {"domain": ["DR(0%, 0%), BESS(0kWh)", "DR(5%, 10%), BESS(100kWh)", "DR(15%, 25%), BESS(250kWh)"], "range": [[1, 0], [20, 13], [5, 5]]}, "legend": {"orient": "none", "legendX": -92, "legendY": -140, "direction": "horizontal", "title": null}},
                "strokeWidth": {"field": "series", "type": "nominal", "scale": {"domain": ["DR(0%, 0%), BESS(0kWh)", "DR(5%, 10%), BESS(100kWh)", "DR(15%, 25%), BESS(250kWh)"], "range": [5, 4.5, 4]}, "legend": null}
              }
            }
          ]
        }
      ]
    },
    {
      "width": 2761, "height": 631,
      "title": {"text": "e", "dx": 95, "dy": 113},
      "transform": [{"filter": "datum.panel === 'e'"}],
      "mark": {"type": "line", "point": {"filled": true, "size": 220}},
      "encoding": {
        "x": {"field": "hour", "type": "ordinal", "sort": "ascending", "scale": {"type": "point", "padding": 0.5}, "axis": {"title": "Time (h)", "titleFontSize": 70, "titleFontWeight": "normal", "titleX": 1310, "titleY": 149, "titleBaseline": "alphabetic", "titleAlign": "center", "titleAngle": 0}},
        "y": {"field": "kwh", "type": "quantitative", "scale": {"domain": [650, 1550], "nice": false, "zero": false}, "axis": {"values": [650,800,950,1100,1250,1400,1550], "format": "d", "title": null, "labelPadding": 45, "labelAlign": "right"}},
        "color": {"field": "series", "type": "nominal", "scale": {"domain": ["DR(0%, 0%), BESS(0kWh)", "DR(5%, 10%), BESS(100kWh)", "DR(15%, 25%), BESS(250kWh)"], "range": ["#0070C0", "#000000", "#E50000"]}, "legend": {"orient": "none", "legendX": -92, "legendY": -140, "direction": "horizontal", "title": null}},
        "strokeDash": {"field": "series", "type": "nominal", "scale": {"domain": ["DR(0%, 0%), BESS(0kWh)", "DR(5%, 10%), BESS(100kWh)", "DR(15%, 25%), BESS(250kWh)"], "range": [[1, 0], [20, 13], [5, 5]]}, "legend": {"orient": "none", "legendX": -92, "legendY": -140, "direction": "horizontal", "title": null}},
        "strokeWidth": {"field": "series", "type": "nominal", "scale": {"domain": ["DR(0%, 0%), BESS(0kWh)", "DR(5%, 10%), BESS(100kWh)", "DR(15%, 25%), BESS(250kWh)"], "range": [5, 4.5, 4]}, "legend": null}
      }
    }
  ],
  "config": {
    "font": "Liberation Serif",
    "view": {"stroke": null},
    "axis": {"labelFont": "Liberation Serif", "labelFontSize": 50, "labelColor": "#000000", "domain": false, "ticks": false, "tickSize": 0, "gridColor": "#D9D9D9", "gridWidth": 3, "titleFont": "Liberation Serif", "titleColor": "#000000", "labelOverlap": false},
    "axisX": {"grid": false, "labelPadding": 79, "labelBaseline": "alphabetic", "labelAngle": 0},
    "axisY": {"grid": true, "labelPadding": 45},
    "legend": {"labelFont": "Liberation Serif", "labelFontSize": 56, "labelColor": "#000000", "symbolType": "stroke", "symbolSize": 11236, "symbolStrokeWidth": 4, "labelOffset": 10, "columnPadding": 195, "padding": 0, "labelLimit": 0},
    "title": {"font": "Liberation Serif", "fontSize": 64, "fontWeight": "bold", "color": "#0070C0", "anchor": "start", "frame": "group", "offset": 0, "baseline": "alphabetic"}
  }
}
